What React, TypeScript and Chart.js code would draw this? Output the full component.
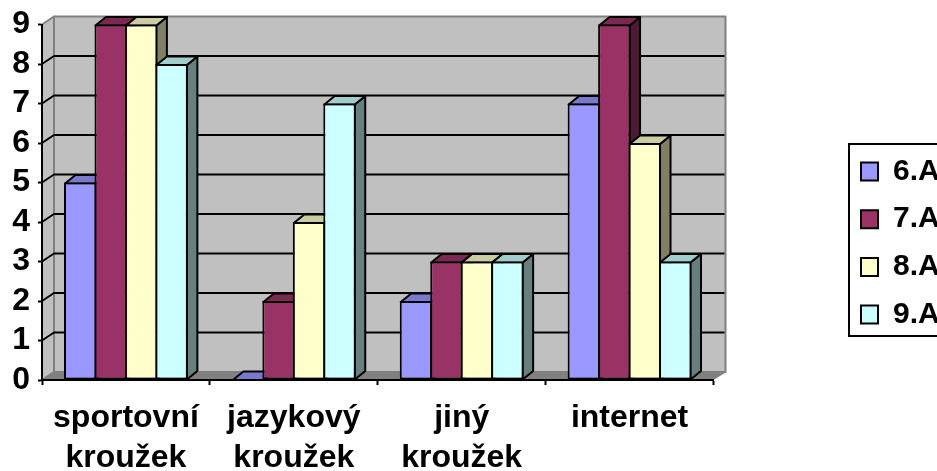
import React, { useEffect, useRef } from "react";
import { Chart, registerables } from "chart.js";

Chart.register(...registerables);

const categories = [["sportovní", "kroužek"], ["jazykový", "kroužek"], ["jiný", "kroužek"], ["internet"]];
const classA6 = [5, 0, 2, 7];
const classA7 = [9, 2, 3, 9];
const classA8 = [9, 4, 3, 6];
const classA9 = [8, 7, 3, 3];
const seriesNames = ["6.A", "7.A", "8.A", "9.A"];
const seriesValues = [classA6, classA7, classA8, classA9];
const frontColors = ["#9999FF", "#993366", "#FFFFCC", "#CCFFFF"];
const topColors = ["#7A7ACC", "#7A2952", "#CCCCA3", "#A3CCCC"];
const sideColors = ["#4D4D80", "#4D1A33", "#808066", "#668080"];

const WALL_DX = 12;
const WALL_DY = 8;
const BAR_DX = 10.5;
const BAR_DY = 8.5;
const FONT = "'Liberation Sans', Arial, sans-serif";

const poly = (ctx: CanvasRenderingContext2D, pts: number[][], fill: string, stroke: string | null, lw = 2) => {
  ctx.beginPath();
  pts.forEach((p, i) => (i ? ctx.lineTo(p[0], p[1]) : ctx.moveTo(p[0], p[1])));
  ctx.closePath();
  ctx.fillStyle = fill;
  ctx.fill();
  if (stroke) {
    ctx.strokeStyle = stroke;
    ctx.lineWidth = lw;
    ctx.lineJoin = "round";
    ctx.stroke();
  }
};

const depthPlugin = {
  id: "depth3d",
  beforeDraw(chart: any) {
    const { ctx, chartArea: a, scales } = chart;
    const y = scales.y;
    const t = a.top;
    const b = a.bottom;
    const l = a.left;
    const r = a.right;
    ctx.save();
    poly(ctx, [[l + WALL_DX, t - WALL_DY], [r + WALL_DX, t - WALL_DY], [r + WALL_DX, b - WALL_DY], [l + WALL_DX, b - WALL_DY]], "#C0C0C0", "#808080");
    poly(ctx, [[l, t], [l + WALL_DX, t - WALL_DY], [l + WALL_DX, b - WALL_DY], [l, b]], "#C0C0C0", "#808080");
    poly(ctx, [[l, b], [l + WALL_DX, b - WALL_DY], [r + WALL_DX + 1, b - WALL_DY], [r, b]], "#808080", null);
    ctx.strokeStyle = "#000000";
    ctx.lineWidth = 2;
    y.ticks.forEach((tick: any, i: number) => {
      if (tick.value === 0 || tick.value === 9) return;
      const py = y.getPixelForTick(i);
      ctx.beginPath();
      ctx.moveTo(l, py);
      ctx.lineTo(l + WALL_DX, py - WALL_DY);
      ctx.lineTo(r + WALL_DX - 1, py - WALL_DY);
      ctx.stroke();
    });
    ctx.restore();
  },
  // Paint left to right, series by series, so each bar's front hides the neighbour's side face.
  beforeDatasetsDraw(chart: any) {
    const { ctx } = chart;
    seriesNames.forEach((_, idx) => {
      const meta = chart.getDatasetMeta(idx);
      ctx.save();
      meta.data.forEach((bar: any) => {
        const right = bar.x + bar.width / 2 - 1;
        const left = bar.x - bar.width / 2 + 1;
        const bottom = bar.base;
        const top = Math.min(bar.y + 1, bottom);
        poly(ctx, [[right, top], [right + BAR_DX, top - BAR_DY], [right + BAR_DX, bottom - BAR_DY], [right, bottom]], sideColors[idx], "#000000");
        poly(ctx, [[left, top], [left + BAR_DX, top - BAR_DY], [right + BAR_DX, top - BAR_DY], [right, top]], topColors[idx], "#000000");
      });
      ctx.restore();
      meta.controller.draw();
    });
  },
  beforeDatasetDraw() {
    return false;
  },
  afterLayout(chart: any) {
    const lg = chart.legend;
    if (!lg) return;
    const pad = lg.options.labels.padding;
    lg.left = 861 - pad;
    lg.right = lg.left + lg.width;
    lg.top = 138.8;
    lg.bottom = 471;
  },
  afterDraw(chart: any) {
    const { ctx } = chart;
    ctx.save();
    ctx.strokeStyle = "#000000";
    ctx.lineWidth = 2;
    ctx.strokeRect(849, 144, 120, 192);
    ctx.restore();
  },
};

export default function App() {
  const ref = useRef<HTMLCanvasElement | null>(null);
  useEffect(() => {
    if (!ref.current) return;
    const chart = new Chart(ref.current, {
      type: "bar",
      data: {
        labels: categories,
        datasets: seriesNames.map((name, i) => ({
          label: name,
          data: seriesValues[i],
          backgroundColor: frontColors[i],
          borderColor: "#000000",
          borderWidth: 2,
          borderSkipped: false,
          barPercentage: 1.065,
          categoryPercentage: 0.726,
          clip: false,
        })),
      },
      options: {
        responsive: false,
        animation: false,
        layout: { padding: { top: 24.5, left: 0, right: 223.5, bottom: 0 } },
        scales: {
          x: {
            offset: true,
            afterFit: (s: any) => { s.height = 91; },
            border: { display: true, color: "#000000", width: 2 },
            grid: { display: true, drawOnChartArea: false, drawTicks: true, tickLength: 5, tickColor: "#000000", tickWidth: 2, offset: true },
            ticks: {
              color: "#000000",
              maxRotation: 0,
              autoSkip: false,
              padding: 13,
              font: { family: FONT, size: 32, weight: "bold", lineHeight: 1.25 },
            },
          },
          y: {
            min: 0,
            max: 9,
            afterFit: (s: any) => { s.width = 42; s.paddingTop = 0; s.paddingBottom = 0; },
            border: { display: true, color: "#000000", width: 2 },
            grid: { display: true, drawOnChartArea: false, drawTicks: true, tickLength: 4, tickColor: "#000000", tickWidth: 2 },
            ticks: {
              stepSize: 1,
              autoSkip: false,
              color: "#000000",
              padding: 8,
              font: { family: FONT, size: 32, weight: "bold" },
            },
          },
        },
        plugins: {
          tooltip: { enabled: false },
          title: { display: false },
          legend: {
            display: true,
            position: "chartArea",
            align: "start",
            labels: {
              boxWidth: 17,
              boxHeight: 18,
              padding: 17.7,
              color: "#000000",
              font: { family: FONT, size: 30, weight: "bold" },
            },
          },
        },
      },
      plugins: [depthPlugin],
    } as any);
    return () => chart.destroy();
  }, []);
  return (
    <div style={{ position: "absolute", left: 0, top: 0, width: 937, height: 471, overflow: "hidden", background: "#ffffff" }}>
      <canvas ref={ref} width={937} height={471} style={{ display: "block", width: 937, height: 471 }} />
    </div>
  );
}
